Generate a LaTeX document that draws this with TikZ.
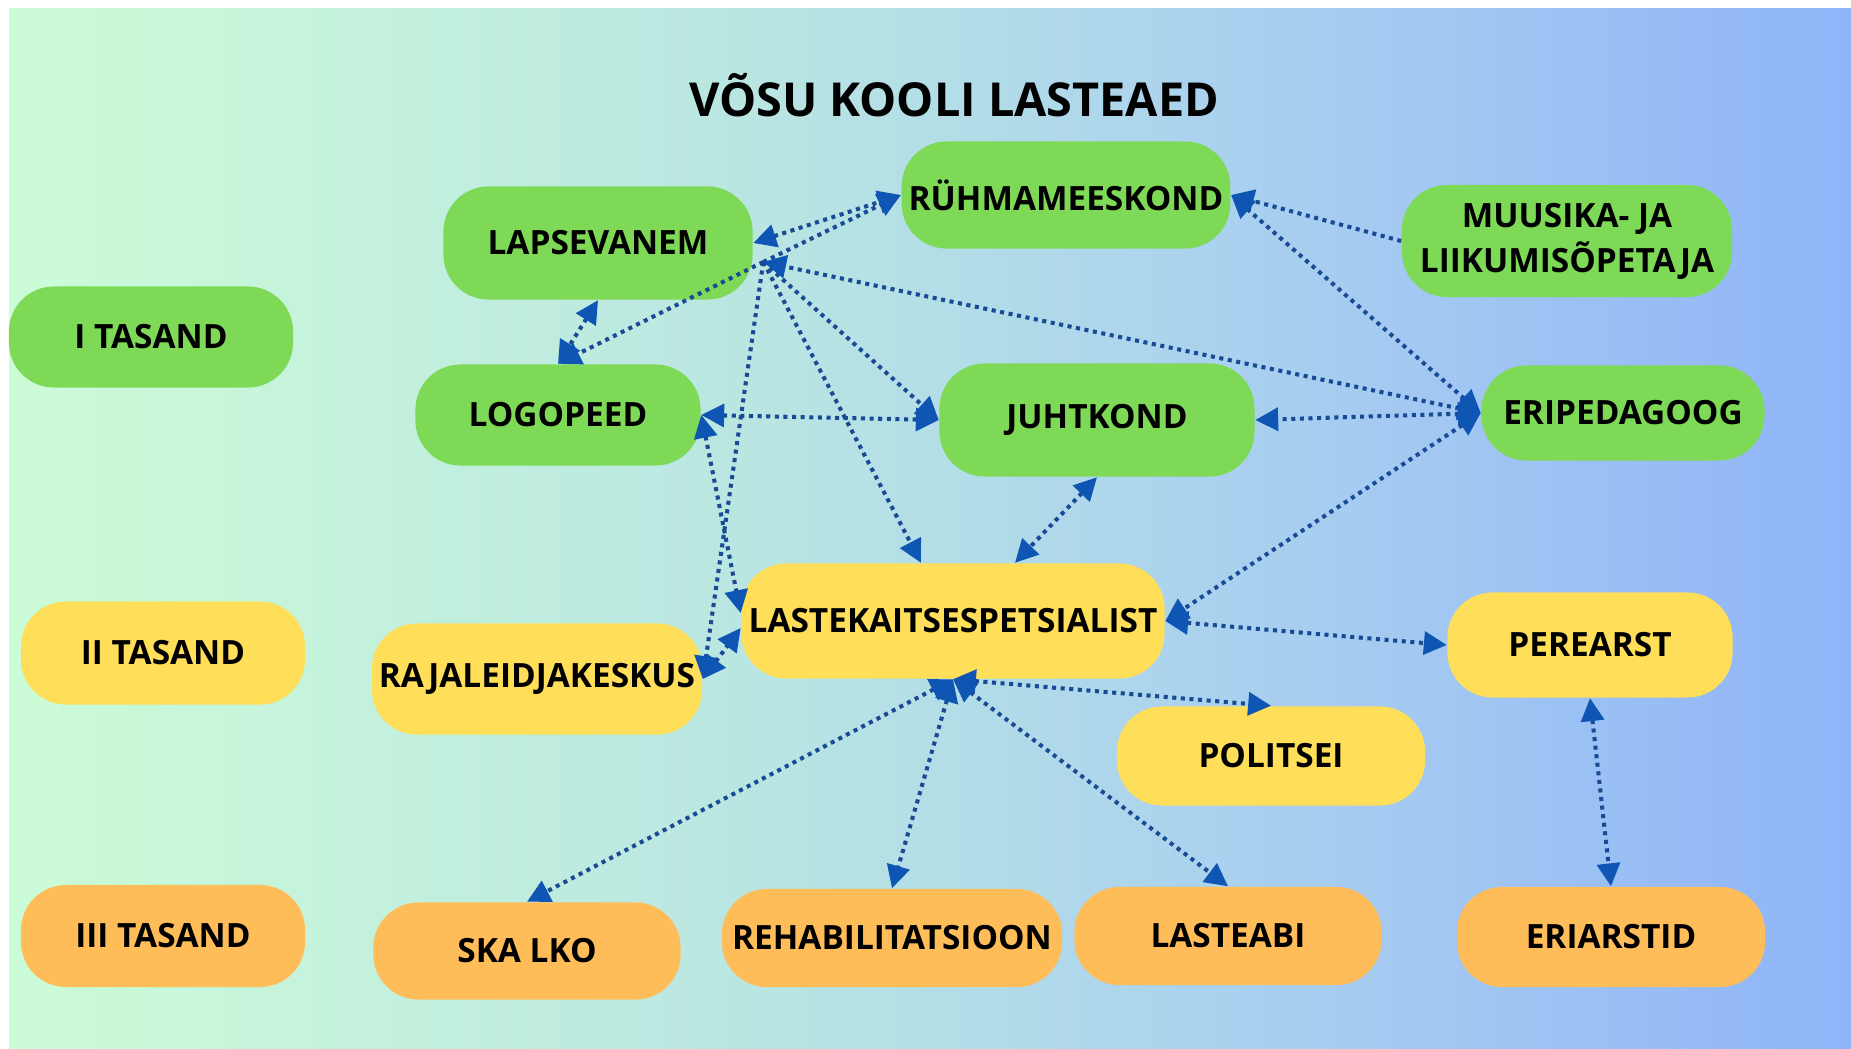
\documentclass[tikz,border=0pt]{standalone}
\usepackage{fontspec}
\setmainfont{Open Sans}
\usetikzlibrary{arrows.meta}
\definecolor{bg_left}{RGB}{204,252,215}
\definecolor{bg_mid}{RGB}{186,230,226}
\definecolor{bg_blue}{RGB}{168,206,240}
\definecolor{bg_right}{RGB}{143,180,248}
\definecolor{box_green}{RGB}{126,217,87}
\definecolor{box_yellow}{RGB}{255,222,89}
\definecolor{box_orange}{RGB}{255,189,89}
\definecolor{link_blue}{RGB}{24,74,150}
\definecolor{tip_blue}{RGB}{14,85,180}
\pgfdeclarehorizontalshading{bggrad}{100bp}{color(0bp)=(bg_left); color(25bp)=(bg_left);
  color(45bp)=(bg_mid); color(60bp)=(bg_blue); color(75bp)=(bg_right); color(100bp)=(bg_right)}
\tikzstyle{tb}=[rounded corners=0.45cm,inner sep=2pt,align=center,
  font=\fontsize{9.5}{12.8}\selectfont\bfseries]
\tikzstyle{gb}=[tb,fill=box_green]
\tikzstyle{yb}=[tb,fill=box_yellow]
\tikzstyle{ob}=[tb,fill=box_orange]
\tikzstyle{link}=[draw=link_blue,line width=1.15pt,dash pattern=on 1.15pt off 1.3pt]

\begin{document}
\begin{tikzpicture}[x=0.01cm,y=-0.01cm,>={Triangle[length=6.5pt,width=6.5pt,color=tip_blue]}]
    \useasboundingbox (0,0) rectangle (1851,1049);
    \shade [shading=bggrad] (9,9) rectangle (1851,1049);
    \node [font=\fontsize{13.3}{16}\selectfont\bfseries] (title) at (954,95) {VÕSU KOOLI LASTEAED};
    \node [style=gb,minimum width=2.84cm,minimum height=1.01cm] (itas) at (151,337) {I TASAND};
    \node [style=yb,minimum width=2.84cm,minimum height=1.03cm] (iitas) at (163,653) {II TASAND};
    \node [style=ob,minimum width=2.84cm,minimum height=1.02cm] (iiitas) at (163,936) {III TASAND};
    \node [style=gb,minimum width=3.09cm,minimum height=1.13cm] (lapsevanem) at (598,243) {LAPSEVANEM};
    \node [style=gb,minimum width=3.24cm,minimum height=1.07cm] (ruhm) at (1066,195) {RÜHMAMEESKOND};
    \node [style=gb,minimum width=3.30cm,minimum height=1.12cm] (muusika) at (1567,241) {MUUSIKA- JA\\LIIKUMISÕPETAJA};
    \node [style=gb,minimum width=2.85cm,minimum height=1.01cm] (logopeed) at (558,415) {LOGOPEED};
    \node [style=gb,minimum width=3.15cm,minimum height=1.13cm] (juhtkond) at (1097,420) {JUHTKOND};
    \node [style=gb,minimum width=2.83cm,minimum height=0.95cm] (eripedagoog) at (1623,413) {ERIPEDAGOOG};
    \node [style=yb,minimum width=4.23cm,minimum height=1.15cm] (lastekaitse) at (953,621) {LASTEKAITSESPETSIALIST};
    \node [style=yb,minimum width=3.28cm,minimum height=1.11cm] (rajaleid) at (537,679) {RAJALEIDJAKESKUS};
    \node [style=yb,minimum width=2.85cm,minimum height=1.05cm] (perearst) at (1590,645) {PEREARST};
    \node [style=yb,minimum width=3.08cm,minimum height=0.99cm] (politsei) at (1271,756) {POLITSEI};
    \node [style=ob,minimum width=3.07cm,minimum height=0.97cm] (skalko) at (527,951) {SKA LKO};
    \node [style=ob,minimum width=3.40cm,minimum height=0.98cm] (rehab) at (892,938) {REHABILITATSIOON};
    \node [style=ob,minimum width=3.07cm,minimum height=0.98cm] (lasteabi) at (1228,936) {LASTEABI};
    \node [style=ob,minimum width=3.08cm,minimum height=1.00cm] (eriarstid) at (1611,937) {ERIARSTID};
    \coordinate (lvhub) at ([shift={(10,19)}]lapsevanem.east);
    \coordinate (lkup) at ([shift={(0,-8)}]lastekaitse.west);
    \coordinate (lklow) at ([shift={(0,7)}]lastekaitse.west);
    \coordinate (lkleft) at ([shift={(-32,0)}]lastekaitse.north);
    \coordinate (lkright) at ([shift={(62,0)}]lastekaitse.north);
    \draw [style=link,<->] (lapsevanem.east) to (ruhm.west);
    \draw [style=link,->] (lvhub) to (ruhm.west);
    \draw [style=link,<->] (lapsevanem.south) to (logopeed.north);
    \draw [style=link,->] (lvhub) to (logopeed.north);
    \draw [style=link,->] (lvhub) to (rajaleid.east);
    \draw [style=link,->] (lvhub) to (juhtkond.west);
    \draw [style=link,->] (lvhub) to (lkleft);
    \draw [style=link,<->] (logopeed.east) to (juhtkond.west);
    \draw [style=link,<->] (logopeed.east) to (lkup);
    \draw [style=link,<->] (rajaleid.east) to (lklow);
    \draw [style=link,<->] (juhtkond.south) to (lkright);
    \draw [style=link,->] (muusika.west) to (ruhm.east);
    \draw [style=link,<->] (eripedagoog.west) to (ruhm.east);
    \draw [style=link,<->] (eripedagoog.west) to (lvhub);
    \draw [style=link,<->] (eripedagoog.west) to (juhtkond.east);
    \draw [style=link,<->] (eripedagoog.west) to (lastekaitse.east);
    \draw [style=link,<->] (lastekaitse.east) to (perearst.west);
    \draw [style=link,<->] (lastekaitse.south) to (politsei.north);
    \draw [style=link,<->] (lastekaitse.south) to (skalko.north);
    \draw [style=link,<->] (lastekaitse.south) to (rehab.north);
    \draw [style=link,<->] (lastekaitse.south) to (lasteabi.north);
    \draw [style=link,<->] (perearst.south) to (eriarstid.north);
\end{tikzpicture}
\end{document}
